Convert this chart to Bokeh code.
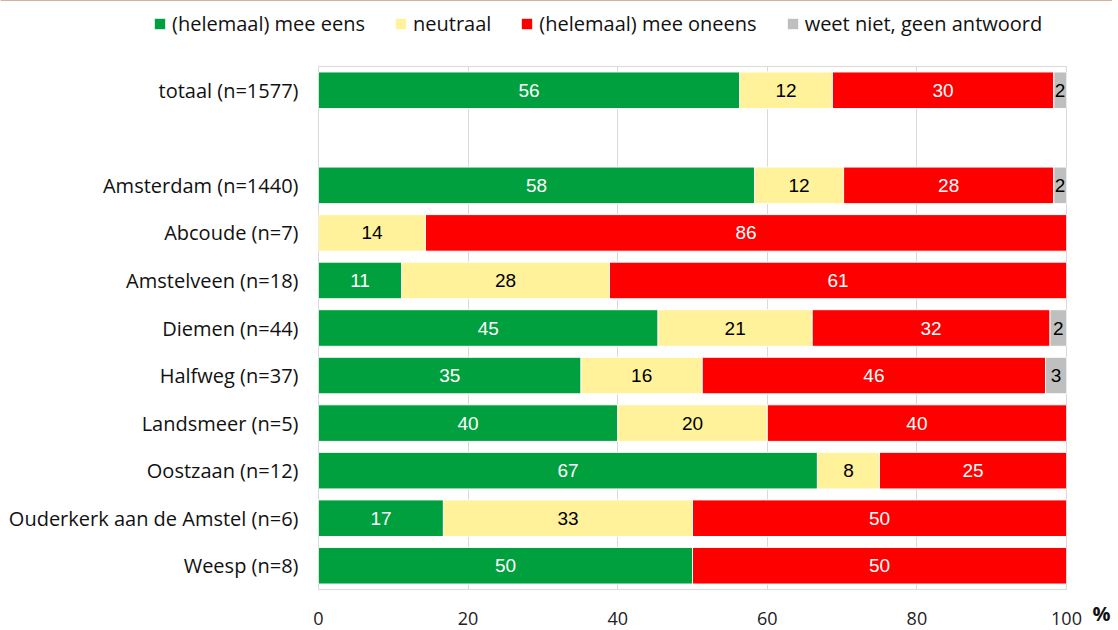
from bokeh.plotting import figure
from bokeh.layouts import column, row
from bokeh.models import ColumnDataSource, FactorRange, Legend, LegendItem, Range1d, FixedTicker
from bokeh.embed import file_html
from bokeh.resources import INLINE
from bokeh.core.properties import value

categories = ["totaal (n=1577)", "Amsterdam (n=1440)", "Abcoude (n=7)", "Amstelveen (n=18)",
              "Diemen (n=44)", "Halfweg (n=37)", "Landsmeer (n=5)", "Oostzaan (n=12)",
              "Ouderkerk aan de Amstel (n=6)", "Weesp (n=8)"]
mee_eens = [56.3, 58.3, 0.0, 11.1, 45.4, 35.1, 40.0, 66.7, 16.7, 50.0]
neutraal = [12.4, 11.9, 14.3, 27.8, 20.6, 16.2, 20.0, 8.3, 33.3, 0.0]
mee_oneens = [29.6, 28.1, 85.7, 61.1, 31.8, 45.9, 40.0, 25.0, 50.0, 50.0]
weet_niet = [1.7, 1.7, 0.0, 0.0, 2.2, 2.8, 0.0, 0.0, 0.0, 0.0]

series_names = ["(helemaal) mee eens", "neutraal", "(helemaal) mee oneens", "weet niet, geen antwoord"]
series_values = [mee_eens, neutraal, mee_oneens, weet_niet]
colors = ["#00A03E", "#FFF29B", "#FF0000", "#BFBFBF"]
text_colors = ["white", "black", "white", "black"]
x_ticks = [0, 20, 40, 60, 80, 100]
unit_label = "%"

W = 1112
MAIN_W = 1086
MAIN_H = 563
LABEL_FONT = "Open Sans"

# ---------- legend strip ----------
lg = figure(width=W, height=66, x_range=Range1d(0, 1), y_range=Range1d(0, 1),
            output_backend="svg", toolbar_location=None, frame_align=False,
            min_border_left=0, min_border_right=0, min_border_top=0, min_border_bottom=0)
lg.axis.visible = False
lg.grid.visible = False
lg.outline_line_color = None
lg_items = []
for name, col in zip(series_names, colors):
    # swatch renderers live outside the visible range; only their legend glyphs show
    r = lg.hbar(y=[5], left=[0], right=[1], height=0.5, fill_color=col, line_color=None)
    lg_items.append(LegendItem(label=name, renderers=[r]))
legend = Legend(items=lg_items, orientation="horizontal", location=(153, 29),
                glyph_width=13, glyph_height=13, label_standoff=6, spacing=29,
                label_text_font=LABEL_FONT, label_text_font_size="20px", label_text_color="#111111",
                border_line_color=None, background_fill_alpha=0, padding=0, margin=0)
lg.add_layout(legend)

# ---------- main chart ----------
factors = list(reversed([categories[0], " "] + categories[1:]))

p = figure(width=MAIN_W, height=MAIN_H, y_range=FactorRange(*factors, range_padding=0),
           x_range=Range1d(0, 100), output_backend="svg", toolbar_location=None, frame_align=False,
           min_border_left=318, min_border_right=MAIN_W - 1066, min_border_top=0, min_border_bottom=40)

p.outline_line_color = "#D9D9D9"
p.xgrid.grid_line_color = "#D9D9D9"
p.ygrid.grid_line_color = None
p.xaxis.ticker = FixedTicker(ticks=x_ticks)
p.xaxis.axis_line_color = None
p.xaxis.major_tick_line_color = None
p.xaxis.minor_tick_line_color = None
p.xaxis.major_label_standoff = 16
p.xaxis.major_label_text_font = LABEL_FONT
p.xaxis.major_label_text_font_size = "18px"
p.xaxis.major_label_text_color = "#222222"
p.yaxis.axis_line_color = None
p.yaxis.major_tick_line_color = None
p.yaxis.minor_tick_line_color = None
p.yaxis.major_label_standoff = 14
p.yaxis.major_label_text_font = LABEL_FONT
p.yaxis.major_label_text_font_size = "20px"
p.yaxis.major_label_text_color = "#111111"

left = [0.0] * len(categories)
for name, vals, col, tcol in zip(series_names, series_values, colors, text_colors):
    ys, ls, rs, cx, labs = [], [], [], [], []
    for i, v in enumerate(vals):
        if v > 0:
            ys.append(categories[i]); ls.append(left[i]); rs.append(left[i] + v)
            cx.append(left[i] + v / 2); labs.append(str(int(round(v))))
        left[i] += v
    src = ColumnDataSource(dict(y=ys, left=ls, right=rs, cx=cx, lab=labs))
    p.hbar(y="y", left="left", right="right", height=0.77, source=src,
           fill_color=col, line_color="white", line_width=1)
    p.text(x="cx", y="y", text="lab", source=src, text_align="center", text_baseline="middle",
           text_font=value("Liberation Sans"), text_font_size="19px", text_color=tcol)

# ---------- unit strip ("%" to the right of the x-axis labels) ----------
UW = W - MAIN_W
pf = figure(width=UW, height=MAIN_H, x_range=Range1d(0, UW), y_range=Range1d(0, MAIN_H),
            output_backend="svg", toolbar_location=None, frame_align=False,
            min_border_left=0, min_border_right=0, min_border_top=0, min_border_bottom=0)
pf.axis.visible = False
pf.grid.visible = False
pf.outline_line_color = None
pf.text(x=[6], y=[3], text=[unit_label], text_align="left", text_baseline="bottom",
        text_font=value(LABEL_FONT), text_font_style="bold", text_font_size="20px", text_color="#111111")

layout = column(lg, row(p, pf, spacing=0), spacing=0)
open("out.html", "w").write(file_html(layout, INLINE))
